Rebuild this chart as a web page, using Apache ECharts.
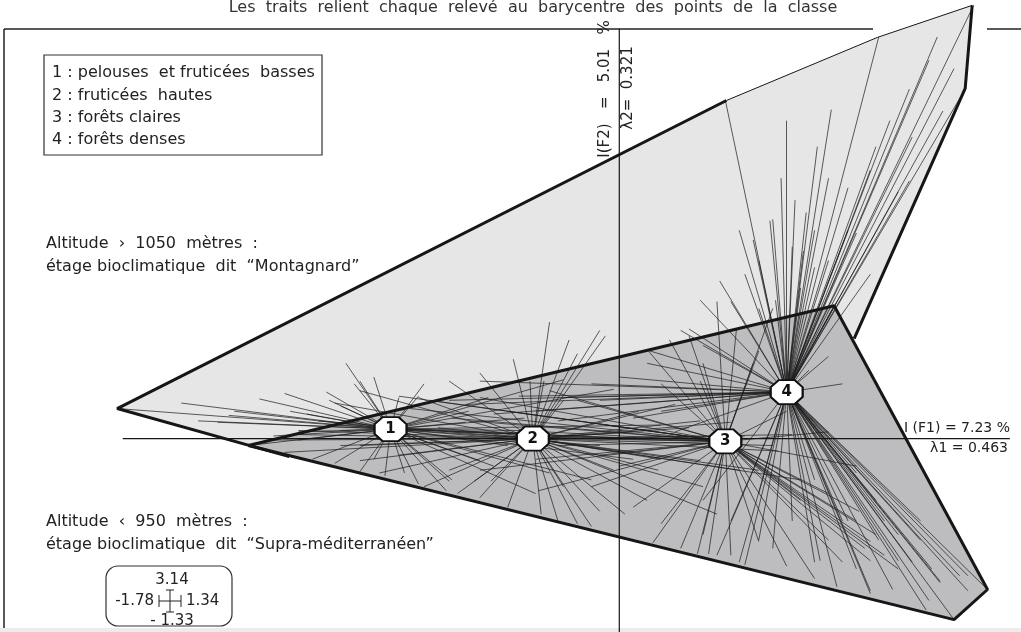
<!DOCTYPE html>
<html>
<head>
<meta charset="utf-8">
<script src="https://cdn.jsdelivr.net/npm/echarts@6/dist/echarts.min.js"></script>
<style>
html, body { margin: 0; padding: 0; background: #fff; }
#main { width: 1021px; height: 632px; }
</style>
</head>
<body>
<div id="main"></div>
<script>
// barycentres des 4 classes dans le plan F1 x F2
var classes = ['1', '2', '3', '4'];
var barycentres = [[-0.82, 0.07], [-0.31, 0.00], [0.38, -0.02], [0.60, 0.34]];

var bornesF1 = [-1.78, 1.34];
var bornesF2 = [-1.33, 3.14];

// relevés (F1, F2) de chaque classe
var releves1 = [
	[-1.80, 0.22], [-1.33, -0.05], [-1.57, 0.26], [-1.44, 0.12], [-1.29, 0.29], [-1.38, 0.20],
	[-1.20, 0.33], [-1.12, 0.18], [-1.05, 0.34], [-1.00, 0.24], [-1.15, 0.05], [-1.24, 0.02],
	[-0.95, 0.40], [-0.88, 0.45], [-0.79, 0.30], [-0.70, 0.40], [-0.98, 0.55],
	[-0.84, -0.27], [-0.77, -0.25], [-0.72, -0.33], [-0.93, -0.24], [-1.02, -0.18], [-0.62, -0.38],
	[-0.88, -0.15], [-1.10, -0.15],
	[-0.47, 0.30], [-0.20, 0.43], [-0.02, 0.36], [-0.34, 0.15], [-0.55, 0.12], [-0.40, -0.05],
	[-0.25, -0.25], [-0.10, -0.30], [-0.30, -0.40], [-0.45, -0.20], [0.05, -0.15], [-0.60, -0.30],
	[0.15, 0.10],
	[-1.51, 0.13], [-1.40, 0.17], [-1.18, 0.20], [-1.04, 0.28], [-1.00, 0.06], [-1.15, -0.01],
	[-0.36, 0.06], [-0.22, -0.01], [-0.07, -0.05], [-0.50, -0.16], [-0.61, -0.31], [-0.72, 0.31],
	[-0.93, 0.42], [-0.54, 0.20], [-0.15, 0.02], [-0.30, 0.04], [0.10, 0.00]
];
var releves2 = [
	[-1.08, 0.13], [-1.15, 0.03], [-1.00, -0.05], [-0.93, -0.16], [-0.86, -0.25], [-1.02, 0.26],
	[-0.93, 0.35], [-0.72, 0.30], [-0.65, 0.08], [-1.20, -0.10], [-0.70, -0.35],
	[-0.32, 0.42], [-0.27, 0.42], [-0.20, 0.28], [-0.15, 0.62], [-0.38, 0.58], [-0.50, 0.48],
	[-0.05, 0.75], [-0.25, 0.85],
	[-0.52, -0.31], [-0.46, -0.31], [-0.20, -0.35], [-0.40, -0.50], [-0.28, -0.55], [-0.10, -0.64],
	[0.02, -0.55], [-0.58, -0.40], [-0.15, -0.62], [0.10, -0.45],
	[-0.02, -0.23], [0.05, 0.05], [0.25, 0.08], [0.50, -0.23], [0.65, -0.30], [0.30, -0.35],
	[0.15, -0.15], [0.40, 0.12], [0.20, 0.25], [0.60, 0.00], [0.35, -0.55],
	[-1.15, 0.06], [-1.25, -0.01], [-0.93, -0.05], [-0.79, -0.12], [-0.61, -0.23], [-0.50, -0.43],
	[-0.22, -0.60], [-0.07, -0.53], [0.14, -0.23], [0.29, -0.16], [0.43, -0.23], [0.57, -0.09],
	[0.29, 0.13], [0.07, 0.20], [-0.18, 0.72], [-0.07, 0.79], [-0.61, 0.42],
	[0.55, -0.05], [0.45, 0.02], [0.62, 0.03]
];
var releves3 = [
	[-0.75, 0.22], [-0.60, 0.15], [-0.50, 0.30], [-0.40, 0.20], [-0.25, 0.35], [-0.15, 0.28],
	[-0.05, 0.10], [0.00, -0.20], [-0.10, -0.35], [0.05, -0.50], [-0.30, -0.15], [0.15, -0.62],
	[0.25, 0.75], [0.30, 0.55], [0.42, 0.80], [0.48, 0.55], [0.15, 0.40], [0.55, 0.95],
	[0.10, 0.65], [0.35, 1.00],
	[0.22, -0.80], [0.30, -0.70], [0.40, -0.85], [0.50, -0.75], [0.28, -0.84], [0.12, -0.76],
	[0.60, -0.93],
	[0.90, -0.75], [0.95, -0.85], [0.85, -0.60], [1.00, -0.95], [0.80, -0.90], [0.75, -0.40],
	[0.70, -1.02], [0.92, -0.70], [0.88, -0.80],
	[0.75, 0.05], [0.85, -0.20], [0.60, 0.20],
	[-0.79, 0.31], [-0.68, 0.28], [-0.54, 0.13], [-0.36, 0.06], [-0.22, -0.05], [-0.07, -0.12],
	[-0.50, -0.23], [-0.29, -0.38], [0.29, 0.42], [0.50, 0.64], [0.18, 0.72],
	[0.86, -0.53], [0.75, -0.74], [0.90, -0.89], [0.65, -0.45], [0.32, -0.84],
	[-0.45, 0.02], [-0.60, 0.05], [-0.20, 0.00]
];
var releves4 = [
	[1.27, 3.16], [1.24, 2.55], [0.93, 2.93], [0.38, 2.47], [0.60, 2.32], [1.14, 2.93],
	[1.20, 2.70], [1.04, 2.55], [0.92, 2.13], [0.71, 2.13], [0.75, 1.90], [0.82, 1.83],
	[0.67, 1.65], [0.62, 1.40], [0.55, 1.60], [0.45, 1.20], [0.50, 0.95], [0.70, 1.25],
	[0.85, 1.50], [1.00, 1.80], [0.90, 1.20], [0.78, 1.00], [1.05, 2.20], [0.58, 1.90],
	[0.40, 1.00], [0.65, 1.10], [0.48, 1.45], [0.76, 2.40], [0.77, 0.97],
	[0.54, 1.59], [0.63, 1.74], [0.66, 1.37], [0.50, 1.30], [0.70, 1.52], [0.43, 1.52],
	[0.75, 1.30], [0.82, 1.52], [0.90, 1.96], [0.97, 2.32], [1.11, 2.76], [1.16, 2.39],
	[1.04, 1.88], [0.56, 1.01], [0.36, 1.15], [0.29, 1.01],
	[-0.20, 0.30], [-0.30, 0.20], [0.00, 0.45], [0.10, 0.55], [0.15, 0.20], [-0.10, 0.40],
	[0.25, 0.80], [0.30, 0.68], [-0.45, 0.18], [0.05, 0.15], [-0.55, 0.25], [0.20, 0.05],
	[-0.61, 0.28], [-0.50, 0.42], [-0.36, 0.31], [-0.22, 0.13], [-0.07, 0.28], [0.11, 0.64],
	[0.22, 0.79],
	[0.50, -0.40], [0.40, -0.60], [0.55, -0.80], [0.62, -0.60], [0.30, -0.45], [0.45, -0.92],
	[0.70, -0.90], [0.35, -0.85], [0.72, -0.89], [0.50, -0.74], [0.43, -0.90],
	[1.32, -1.10], [1.20, -1.32], [1.10, -1.25], [1.15, -1.05], [1.05, -0.90], [0.98, -1.10],
	[0.90, -1.13], [0.85, -0.95], [1.25, -1.00], [1.00, -0.70], [0.80, -0.60], [0.92, -0.45],
	[0.78, -1.08], [1.08, -0.60], [0.70, -0.30], [0.85, -0.25], [1.12, -0.95], [0.95, -0.60],
	[1.15, -1.04], [1.22, -1.00], [1.25, -1.11], [1.11, -1.18], [1.00, -0.89], [0.93, -0.74],
	[1.08, -0.74], [0.82, -0.60], [0.90, -1.11],
	[0.80, 0.40], [0.75, 0.60], [0.68, 0.50]
];
var releves = [releves1, releves2, releves3, releves4];

// enveloppes des deux étages
var enveloppeMontagnard = [[-1.80, 0.22], [0.384, 2.467], [0.925, 2.927], [1.265, 3.161], [1.240, 2.555], [0.842, 0.730], [0.789, 0.496], [-1.183, -0.131]];
var enveloppeSupra = [[-1.33, -0.05], [0.77, 0.97], [1.32, -1.10], [1.20, -1.32]];
var bordEpaisMontagnard = [[[-1.183, -0.131], [-1.80, 0.22], [0.384, 2.467]], [[1.265, 3.161], [1.240, 2.555], [0.842, 0.730]]];
var bordFinMontagnard = [[0.384, 2.467], [0.925, 2.927], [1.265, 3.161]];

// axes factoriels
var axeF1 = [[-1.78, 0], [1.40, 0]];
var axeF2 = [[0, 2.99], [0, -1.42]];

var police = '"DejaVu Sans", "Noto Sans", sans-serif';

var chartDom = document.getElementById('main');
var myChart = echarts.init(chartDom, null, { renderer: 'canvas' });

var traits = [];
releves.forEach(function (liste, k) {
	liste.forEach(function (p) {
		traits.push({ coords: [p, barycentres[k]] });
	});
});

function polygone(points, fill) {
	return {
		type: 'custom',
		silent: true,
		data: [[0, 0]],
		renderItem: function (params, api) {
			return {
				type: 'polygon',
				shape: { points: points.map(function (p) { return api.coord(p); }) },
				style: { fill: fill, stroke: null }
			};
		}
	};
}

function bord(points, width) {
	return {
		type: 'line',
		data: points,
		symbol: 'none',
		silent: true,
		lineStyle: { color: '#161616', width: width }
	};
}

function texte(x, y, txt, extra) {
	var el = {
		type: 'text', x: x, y: y,
		style: { text: txt, font: '16px ' + police, fill: '#222', textVerticalAlign: 'middle' }
	};
	if (extra) {
		for (var k in extra) {
			if (k === 'rotation') el.rotation = extra[k];
			else el.style[k] = extra[k];
		}
	}
	return el;
}

function trait(x1, y1, x2, y2, w) {
	return { type: 'line', shape: { x1: x1, y1: y1, x2: x2, y2: y2 }, style: { stroke: '#222', lineWidth: w || 1 } };
}

var option = {
	animation: false,
	grid: { left: 0, right: 0, top: 0, bottom: 0 },
	xAxis: { type: 'value', min: -2.22, max: 1.44, show: false },
	yAxis: { type: 'value', min: -1.41, max: 3.2, show: false },
	series: [
		polygone(enveloppeMontagnard, '#e6e6e7'),
		bord(bordEpaisMontagnard[0], 3),
		bord(bordEpaisMontagnard[1], 3),
		bord(bordFinMontagnard, 1),
		polygone(enveloppeSupra, '#bdbdc0'),
		bord(enveloppeSupra.concat([enveloppeSupra[0]]), 3),
		{
			type: 'lines',
			coordinateSystem: 'cartesian2d',
			silent: true,
			data: traits,
			lineStyle: { color: '#1e1e1e', width: 0.8, opacity: 0.9 }
		},
		bord(axeF1, 1.2),
		bord(axeF2, 1.2),
		{
			type: 'scatter',
			data: barycentres.map(function (p, i) { return { value: p, name: classes[i] }; }),
			symbol: 'path://M3,0 L9,0 L12,3 L12,7 L9,10 L3,10 L0,7 L0,3 Z',
			symbolSize: [32, 24],
			itemStyle: { color: '#fff', borderColor: '#111', borderWidth: 2, opacity: 1 },
			label: {
				show: true,
				position: 'inside',
				formatter: '{b}',
				color: '#111',
				fontWeight: 'bold',
				fontSize: 15,
				fontFamily: police
			},
			z: 10
		}
	],
	graphic: {
		elements: [
			// cadre
			trait(4, 29, 873, 29, 1.5),
			trait(987, 29, 1021, 29, 1.5),
			trait(4, 29, 4, 632, 1.5),
			{ type: 'rect', shape: { x: 0, y: 628, width: 1021, height: 4 }, style: { fill: '#ececec' } },
			texte(533, 8, 'Les  traits  relient  chaque  relevé  au  barycentre  des  points  de  la  classe', { textAlign: 'center', fill: '#333' }),
			// légende
			{ type: 'rect', shape: { x: 44, y: 55, width: 278, height: 100 }, style: { fill: '#fff', stroke: '#333', lineWidth: 1.2 } },
			texte(52, 73, '1 : pelouses  et fruticées  basses'),
			texte(52, 96, '2 : fruticées  hautes'),
			texte(52, 118, '3 : forêts claires'),
			texte(52, 140, '4 : forêts denses'),
			// étages
			texte(46, 244, 'Altitude  ›  1050  mètres  :'),
			texte(46, 267, 'étage bioclimatique  dit  “Montagnard”'),
			texte(46, 522, 'Altitude  ‹  950  mètres  :'),
			texte(46, 545, 'étage bioclimatique  dit  “Supra-méditerranéen”'),
			// axes
			texte(605, 89, 'I(F2)   =   5.01   %', { textAlign: 'center', rotation: Math.PI / 2, font: '15px ' + police }),
			texte(628, 88, 'λ2=  0.321', { textAlign: 'center', rotation: Math.PI / 2, font: '15px ' + police }),
			texte(1010, 428, 'I (F1) = 7.23 %', { textAlign: 'right', font: '14px ' + police }),
			texte(1008, 448, 'λ1 = 0.463', { textAlign: 'right', font: '14px ' + police }),
			// étendue des axes
			{ type: 'rect', shape: { x: 106, y: 566, width: 126, height: 60, r: 12 }, style: { fill: '#fff', stroke: '#333', lineWidth: 1.2 } },
			texte(172, 580, String(bornesF2[1]), { textAlign: 'center', font: '15px ' + police }),
			texte(154, 601, '-' + Math.abs(bornesF1[0]), { textAlign: 'right', font: '15px ' + police }),
			texte(186, 601, String(bornesF1[1]), { textAlign: 'left', font: '15px ' + police }),
			texte(172, 621, '- ' + Math.abs(bornesF2[0]), { textAlign: 'center', font: '15px ' + police }),
			trait(159, 601, 181, 601),
			trait(170, 590, 170, 612),
			trait(159, 595, 159, 607),
			trait(181, 595, 181, 607),
			trait(166, 590, 174, 590),
			trait(166, 612, 174, 612)
		]
	}
};

option && myChart.setOption(option);
</script>
</body>
</html>
